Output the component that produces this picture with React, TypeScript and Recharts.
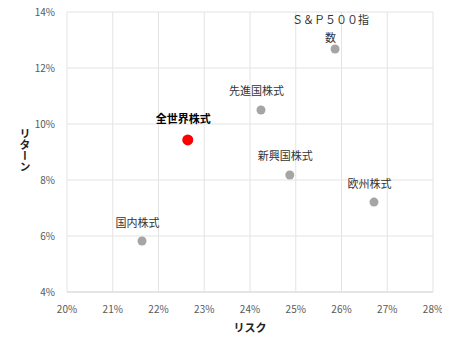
import { CartesianGrid, Cell, LabelList, Scatter, ScatterChart, XAxis, YAxis } from 'recharts';

const funds = ['国内株式', '全世界株式', '先進国株式', '新興国株式', 'Ｓ＆Ｐ５００指数', '欧州株式'];
const risk = [21.64, 22.64, 24.24, 24.87, 25.86, 26.71];
const returns = [5.82, 9.43, 10.5, 8.18, 12.68, 7.21];
const highlight = '全世界株式';

const xTicks = [20, 21, 22, 23, 24, 25, 26, 27, 28];
const yTicks = [4, 6, 8, 10, 12, 14];

const data = funds.map((name, i) => ({ name, risk: risk[i], ret: returns[i] }));

const font = '"Noto Sans CJK JP", "Noto Sans", sans-serif';

const PointLabel = (props: any) => {
  const { x, y, value } = props;
  const bold = value === highlight;
  if (value.length > 7) {
    // long name wraps like the original
    return (
      <text x={x} textAnchor="middle" fontSize={11} fill="#333" fontFamily={font}>
        <tspan x={x} y={y - 20}>{value.slice(0, 7)}</tspan>
        <tspan x={x} y={y - 2}>{value.slice(7)}</tspan>
      </text>
    );
  }
  return (
    <text
      x={x}
      y={y - (bold ? 12 : 10)}
      textAnchor="middle"
      fontSize={11}
      fontWeight={bold ? 700 : 400}
      fill={bold ? '#000' : '#333'}
      fontFamily={font}
    >
      {value}
    </text>
  );
};

const Dot = (props: any) => {
  const { cx, cy, payload } = props;
  const hot = payload.name === highlight;
  return <circle cx={cx} cy={cy} r={hot ? 5.5 : 4.5} fill={hot ? '#ff0000' : '#a5a5a5'} />;
};

// vertical (tategaki) axis title
const YTitle = (p: any) => {
  const vb = p.viewBox;
  return (
    <text
      x={25}
      y={vb.y + vb.height / 2 - 2}
      textAnchor="middle"
      fontSize={11}
      fontWeight={700}
      fill="#222"
      fontFamily={font}
      style={{ writingMode: 'vertical-rl' }}
    >
      リターン
    </text>
  );
};

export default function App() {
  return (
    <div style={{ margin: -8 }}>
      <ScatterChart width={450} height={345} margin={{ top: 12, right: 17, bottom: 23, left: 27 }}>
        <CartesianGrid stroke="#e3e3e3" />
        <XAxis
          type="number"
          dataKey="risk"
          domain={[20, 28]}
          ticks={xTicks}
          tickFormatter={(v) => `${v}%`}
          tick={{ fontSize: 10, fill: '#595959', fontFamily: font }}
          tickLine={false}
          axisLine={{ stroke: '#d9d9d9' }}
          tickMargin={8}
          label={{
            value: 'リスク',
            position: 'insideBottom',
            offset: -10,
            fontSize: 11,
            fontWeight: 700,
            fill: '#222',
            fontFamily: font,
          }}
        />
        <YAxis
          type="number"
          dataKey="ret"
          domain={[4, 14]}
          ticks={yTicks}
          tickFormatter={(v) => `${v}%`}
          tick={{ fontSize: 10, fill: '#595959', fontFamily: font }}
          tickLine={false}
          axisLine={false}
          width={40}
          tickMargin={6}
          label={YTitle}
        />
        <Scatter data={data} isAnimationActive={false} shape={Dot}>
          {data.map((d) => (
            <Cell key={d.name} fill={d.name === highlight ? '#ff0000' : '#a5a5a5'} />
          ))}
          <LabelList dataKey="name" content={PointLabel} />
        </Scatter>
      </ScatterChart>
    </div>
  );
}
